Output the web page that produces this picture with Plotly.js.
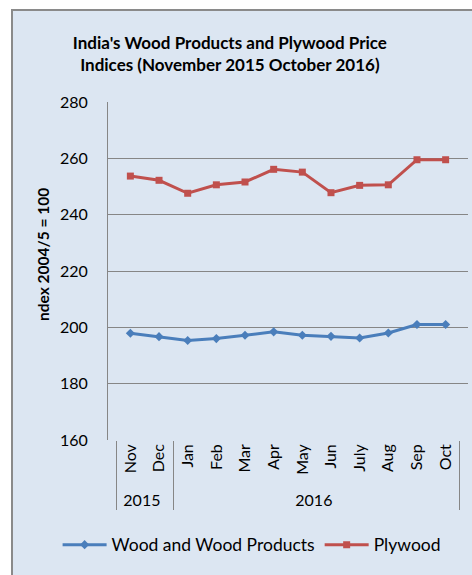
<!DOCTYPE html>
<html>
<head>
<meta charset="utf-8">
<script src="https://cdn.plot.ly/plotly-3.0.1.min.js"></script>
<style>html,body{margin:0;padding:0;background:#fff;}#chart{width:472px;height:575px;}</style>
</head>
<body>
<div id="chart"></div>
<script>
const years = ["2015","2015","2016","2016","2016","2016","2016","2016","2016","2016","2016","2016"];
const months = ["Nov","Dec","Jan","Feb","Mar","Apr","May","Jun","July","Aug","Sep","Oct"];
const woodProducts = [197.9, 196.7, 195.3, 196.0, 197.2, 198.4, 197.2, 196.8, 196.2, 198.0, 201.0, 201.0];
const plywood = [253.7, 252.2, 247.6, 250.6, 251.6, 256.1, 255.1, 247.8, 250.4, 250.6, 259.5, 259.5];
const yTicks = [160, 180, 200, 220, 240, 260, 280];

const FONT = "Lato, 'Open Sans', sans-serif";
const x = [years, months];

const traces = [
  {
    x: x, y: woodProducts, type: "scatter", mode: "lines+markers",
    name: "Wood and Wood Products",
    line: {color: "#4a7ebb", width: 3},
    marker: {symbol: "diamond", size: 7, color: "#4a7ebb"}
  },
  {
    x: x, y: plywood, type: "scatter", mode: "lines+markers",
    name: "Plywood",
    line: {color: "#c0504d", width: 3},
    marker: {symbol: "square", size: 7, color: "#c0504d"}
  }
];

const layout = {
  width: 472, height: 575,
  margin: {l: 108, r: 4, t: 102, b: 135},
  paper_bgcolor: "#ffffff",
  plot_bgcolor: "#d9d9d9",
  font: {family: FONT, size: 16, color: "#000"},
  title: {
    text: "<b>India's Wood Products and Plywood Price<br>Indices (November 2015 October 2016)</b>",
    x: 0.487, xref: "container", xanchor: "center",
    y: 1 - 49/575, yref: "container", yanchor: "top",
    font: {family: FONT, size: 17, color: "#000"}
  },
  xaxis: {
    type: "multicategory",
    tickangle: -90,
    showgrid: false,
    showline: false,
    ticks: "",
    showdividers: true,
    dividercolor: "#868686",
    dividerwidth: 1,
    tickfont: {family: FONT, size: 16, color: "#000"}
  },
  yaxis: {
    range: [160, 280],
    tickvals: yTicks,
    ticktext: yTicks.map(String),
    showgrid: true, gridcolor: "#868686", gridwidth: 1,
    zeroline: false,
    showline: true, linecolor: "#868686", linewidth: 1,
    ticks: "", ticklabelstandoff: 16,
    tickfont: {family: FONT, size: 16, color: "#000"}
  },
  showlegend: true,
  legend: {
    orientation: "h",
    x: -0.14, xanchor: "left",
    y: -0.31, yanchor: "middle",
    bgcolor: "rgba(0,0,0,0)",
    font: {family: FONT, size: 17.5, color: "#000"},
    itemwidth: 44
  },
  annotations: [
    {
      text: "<b>ndex 2004/5 = 100</b>",
      textangle: -90,
      xref: "paper", yref: "paper",
      x: (43 - 108) / 360, y: (440 - 255) / 338,
      xanchor: "center", yanchor: "middle",
      showarrow: false,
      font: {family: FONT, size: 15.5, color: "#000"}
    }
  ],
  shapes: [
    {
      type: "rect", layer: "below",
      xref: "paper", yref: "paper",
      x0: (12 - 108) / 360, x1: (485 - 108) / 360,
      y0: (440 - 590) / 338, y1: (440 - 10) / 338,
      fillcolor: "#dce6f2",
      line: {color: "#8a8a8a", width: 2}
    }
  ]
};

Plotly.newPlot("chart", traces, layout, {displayModeBar: false, staticPlot: true});
</script>
</body>
</html>
